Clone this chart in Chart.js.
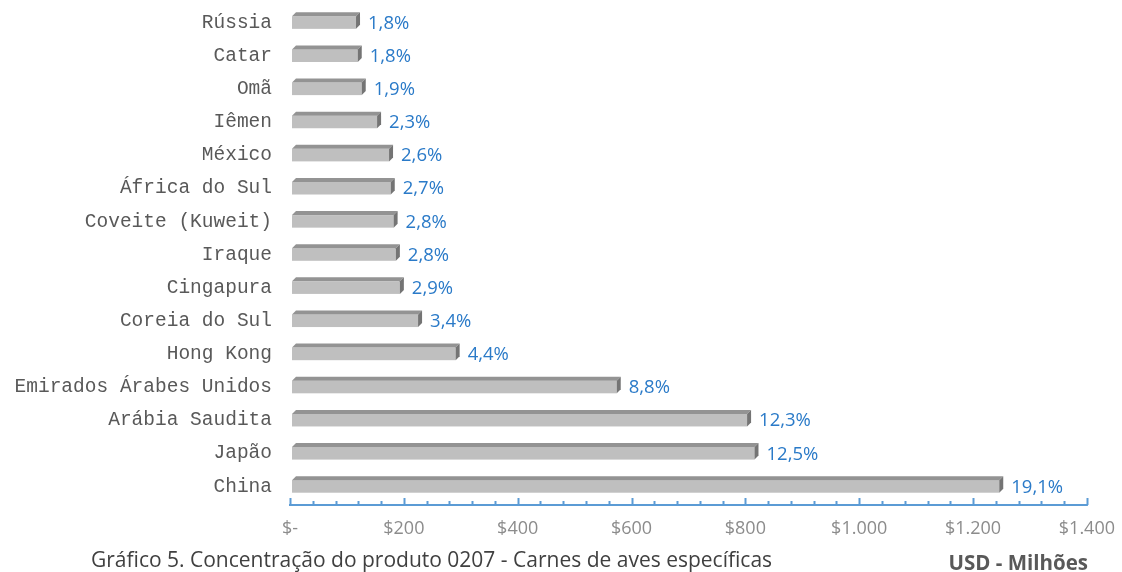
<!DOCTYPE html>
<html>
<head>
<meta charset="utf-8">
<script src="https://cdn.jsdelivr.net/npm/chart.js@4.4.0/dist/chart.umd.min.js"></script>
<style>
  html, body { margin: 0; padding: 0; background: #fff; }
  #wrap { width: 1122px; height: 572px; position: relative; }
</style>
</head>
<body>
<div id="wrap"><canvas id="mainChart" width="1122" height="572"></canvas></div>
<script>
// Data (USD - Milhões)
const countries = ['Rússia', 'Catar', 'Omã', 'Iêmen', 'México', 'África do Sul', 'Coveite (Kuweit)',
    'Iraque', 'Cingapura', 'Coreia do Sul', 'Hong Kong', 'Emirados Árabes Unidos', 'Arábia Saudita', 'Japão', 'China'];
const values = [116, 119, 126, 153, 174, 177, 182, 186, 193, 225, 291, 574, 803, 816, 1246];
const shares = ['1,8%', '1,8%', '1,9%', '2,3%', '2,6%', '2,7%', '2,8%', '2,8%', '2,9%', '3,4%', '4,4%', '8,8%', '12,3%', '12,5%', '19,1%'];
const xTicks = [0, 200, 400, 600, 800, 1000, 1200, 1400];

const chartTitle = 'Gráfico 5. Concentração do produto 0207 - Carnes de aves específicas';
const unitLabel = 'USD - Milhões';

const DEPTH = 4;

// Draw the bars with a flat 3D look (top and right faces)
const bars3d = {
    id: 'bars3d',
    afterDatasetsDraw(chart) {
        const ctx = chart.ctx;
        const meta = chart.getDatasetMeta(0);
        ctx.save();
        meta.data.forEach((bar, i) => {
            const x0 = bar.base + 2;
            const x1 = bar.x;
            const yTop = bar.y - bar.height / 2 - 2;
            const yBot = bar.y + bar.height / 2 - 2;
            // front face
            ctx.fillStyle = '#bfbfbf';
            ctx.fillRect(x0, yTop + DEPTH, x1 - x0, yBot - yTop - DEPTH);
            // top face
            ctx.fillStyle = '#939393';
            ctx.beginPath();
            ctx.moveTo(x0, yTop + DEPTH);
            ctx.lineTo(x0 + DEPTH, yTop);
            ctx.lineTo(x1 + DEPTH, yTop);
            ctx.lineTo(x1, yTop + DEPTH);
            ctx.closePath();
            ctx.fill();
            // side face
            ctx.fillStyle = '#747474';
            ctx.beginPath();
            ctx.moveTo(x1, yTop + DEPTH);
            ctx.lineTo(x1 + DEPTH, yTop);
            ctx.lineTo(x1 + DEPTH, yBot - DEPTH);
            ctx.lineTo(x1, yBot);
            ctx.closePath();
            ctx.fill();

            // data label
            ctx.fillStyle = '#2a7ac8';
            ctx.font = '18.5px "Open Sans", sans-serif';
            ctx.textAlign = 'left';
            ctx.textBaseline = 'middle';
            ctx.fillText(shares[i], x1 + DEPTH + 8, bar.y + 1);
        });
        ctx.restore();
    }
};

// Blue axis line with ticks pointing up, plus bottom captions
const axisAndCaption = {
    id: 'axisAndCaption',
    afterDraw(chart) {
        const ctx = chart.ctx;
        const xs = chart.scales.x;
        const area = chart.chartArea;
        const yLine = area.bottom + 2;
        ctx.save();
        ctx.strokeStyle = '#5b9bd5';
        ctx.lineWidth = 2;
        ctx.beginPath();
        ctx.moveTo(xs.getPixelForValue(0) - 1, yLine);
        ctx.lineTo(xs.getPixelForValue(1400) + 1, yLine);
        ctx.stroke();
        for (let v = 0; v <= 1400; v += 40) {
            const px = Math.round(xs.getPixelForValue(v)) + 0.5;
            const len = v % 200 === 0 ? 7 : 4;
            ctx.beginPath();
            ctx.moveTo(px, yLine);
            ctx.lineTo(px, yLine - len);
            ctx.stroke();
        }

        ctx.fillStyle = '#404040';
        ctx.textBaseline = 'alphabetic';
        ctx.textAlign = 'left';
        ctx.font = '21px "Open Sans", sans-serif';
        ctx.fillText(chartTitle, 91, 567);
        ctx.fillStyle = '#595959';
        ctx.font = 'bold 20.5px "Open Sans", sans-serif';
        ctx.textAlign = 'right';
        ctx.fillText(unitLabel, 1088, 570);
        ctx.restore();
    }
};

function initializeChart() {
    const ctx = document.getElementById('mainChart').getContext('2d');
    new Chart(ctx, {
        type: 'bar',
        data: {
            labels: countries,
            datasets: [{
                data: values,
                backgroundColor: 'rgba(0,0,0,0)',
                borderWidth: 0,
                categoryPercentage: 1,
                barPercentage: 0.5
            }]
        },
        options: {
            indexAxis: 'y',
            responsive: false,
            animation: false,
            layout: { padding: { top: 6, right: 34, bottom: 0, left: 0 } },
            plugins: {
                legend: { display: false },
                tooltip: { enabled: false }
            },
            scales: {
                x: {
                    min: 0,
                    max: 1400,
                    afterBuildTicks(scale) {
                        scale.ticks = xTicks.map(v => ({ value: v }));
                    },
                    afterFit(scale) { scale.height = 69; },
                    grid: { display: false },
                    border: { display: false },
                    ticks: {
                        color: '#8c8c8c',
                        font: { family: 'Open Sans', size: 18 },
                        padding: 7,
                        maxRotation: 0,
                        callback(value) {
                            if (value === 0) return '$-';
                            return '$' + value.toLocaleString('pt-BR');
                        }
                    }
                },
                y: {
                    afterFit(scale) {
                        scale.width = 290;
                        scale.paddingTop = 0;
                        scale.paddingBottom = 0;
                    },
                    grid: { display: false },
                    border: { display: false },
                    ticks: {
                        color: '#595959',
                        font: { family: 'Liberation Mono', size: 19.5 },
                        padding: 10
                    }
                }
            }
        },
        plugins: [bars3d, axisAndCaption]
    });
}

document.addEventListener('DOMContentLoaded', initializeChart);
</script>
</body>
</html>
